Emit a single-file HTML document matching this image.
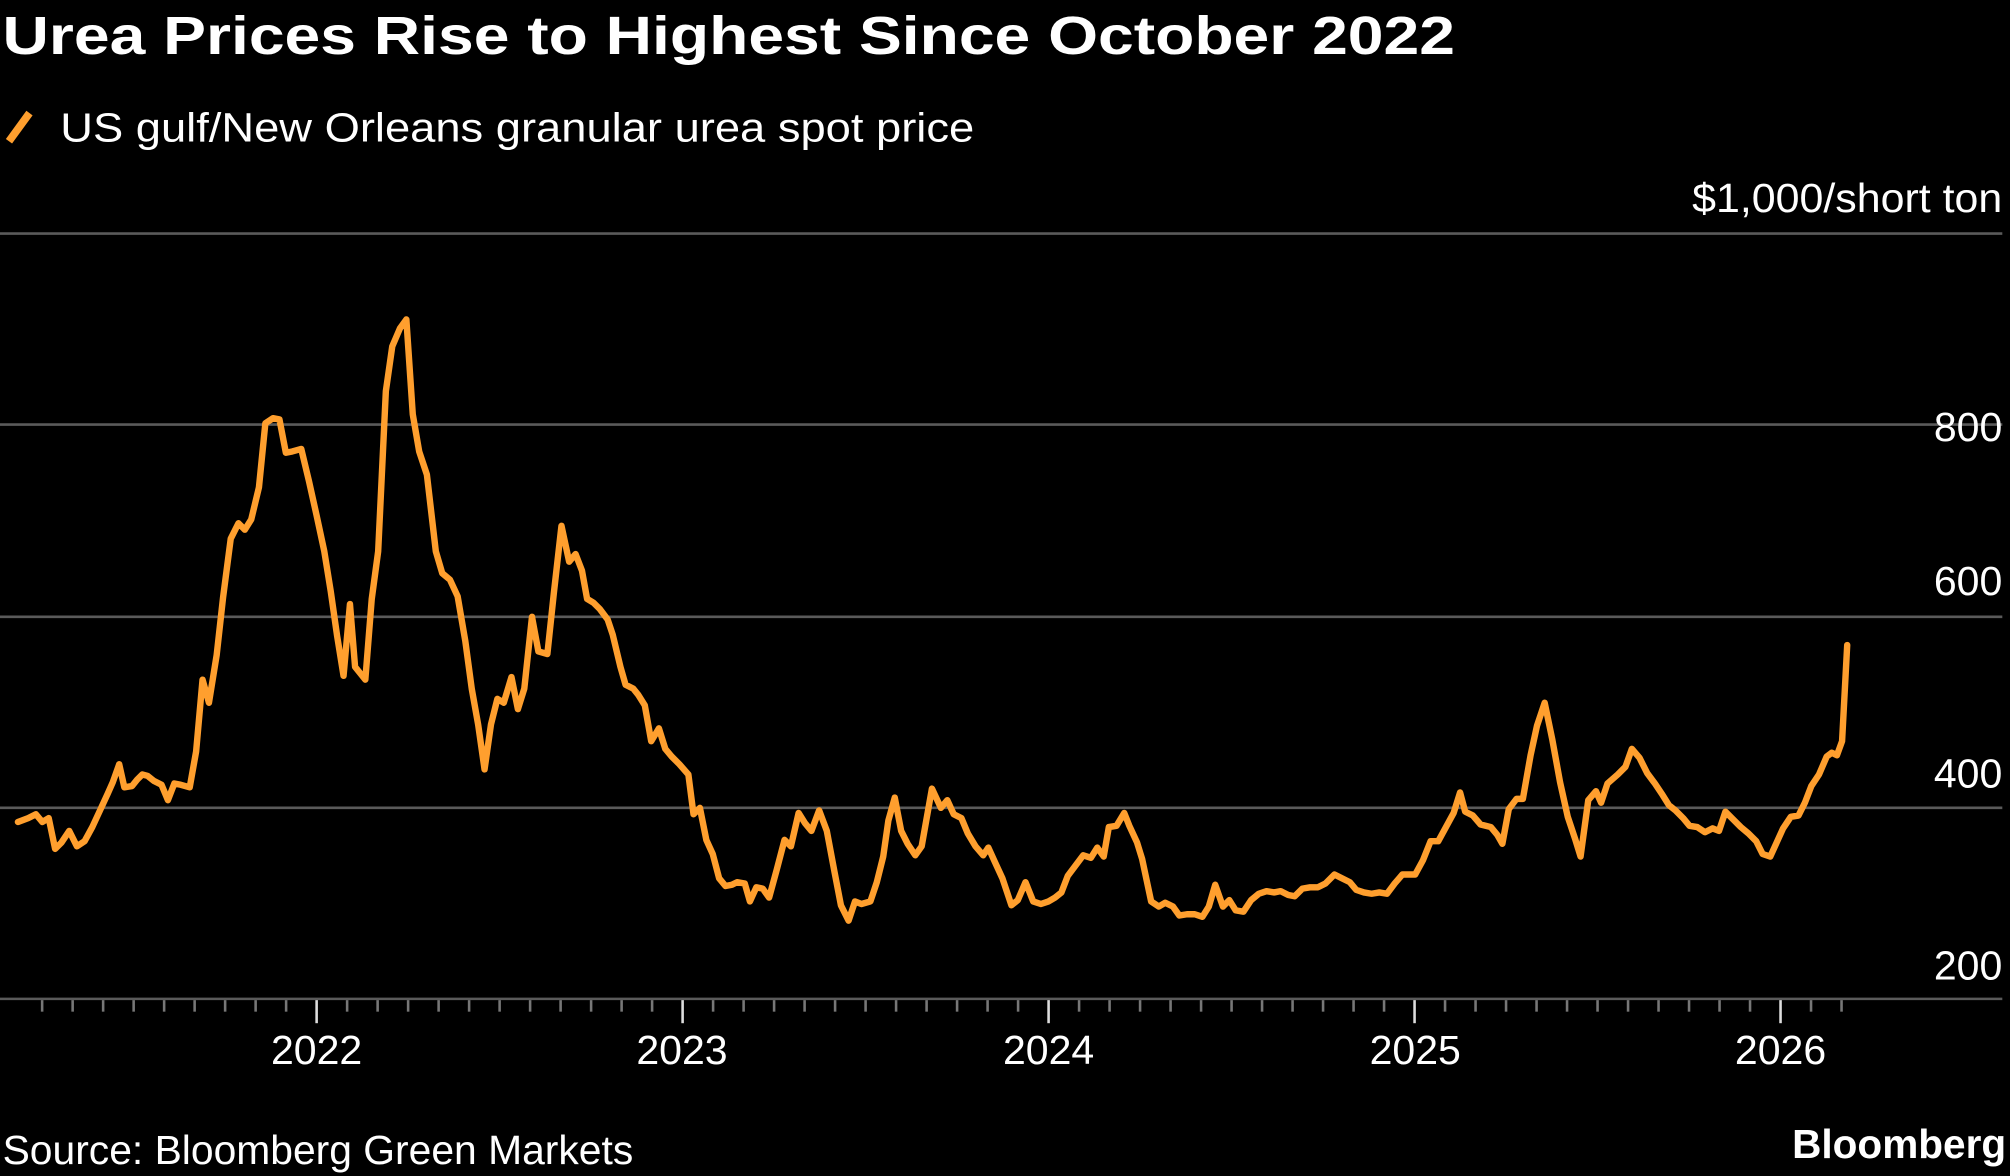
<!DOCTYPE html>
<html><head><meta charset="utf-8"><style>
html,body{margin:0;padding:0;background:#000;}
svg{display:block;}
text{font-family:"Liberation Sans Narrow","Liberation Sans",sans-serif;fill:#fff;}
</style></head><body>
<svg width="2010" height="1176" viewBox="0 0 1568 917" xmlns="http://www.w3.org/2000/svg">
<rect width="1568" height="917" fill="#000"/>
<text x="2" y="42" font-size="42" font-weight="bold" font-family="Liberation Sans" textLength="1133" lengthAdjust="spacingAndGlyphs">Urea Prices Rise to Highest Since October 2022</text>
<line x1="7" y1="110" x2="23" y2="88" stroke="#ff9f2e" stroke-width="6"/>
<text x="47" y="110" font-size="32" textLength="713" lengthAdjust="spacingAndGlyphs">US gulf/New Orleans granular urea spot price</text>
<text x="1562" y="165" font-size="32" text-anchor="end" textLength="242" lengthAdjust="spacingAndGlyphs">$1,000/short ton</text>
<g stroke="#5a5a5a" stroke-width="2">
<line x1="0" y1="182" x2="1562" y2="182"/>
<line x1="0" y1="331" x2="1562" y2="331"/>
<line x1="0" y1="481" x2="1562" y2="481"/>
<line x1="0" y1="630" x2="1562" y2="630"/>
<line x1="0" y1="779" x2="1562" y2="779"/>
</g>
<g font-size="32" text-anchor="end">
<text x="1562" y="344">800</text>
<text x="1562" y="464">600</text>
<text x="1562" y="614">400</text>
<text x="1562" y="764">200</text>
</g>
<g id="ticks" stroke="#777" stroke-width="2"></g>
<g font-size="32" text-anchor="middle">
<text x="247" y="830">2022</text>
<text x="532" y="830">2023</text>
<text x="818" y="830">2024</text>
<text x="1104" y="830">2025</text>
<text x="1389" y="830">2026</text>
</g>
<text x="2" y="908" font-size="32" textLength="492" lengthAdjust="spacingAndGlyphs">Source: Bloomberg Green Markets</text>
<text x="1565" y="903" font-size="32" font-weight="bold" text-anchor="end" font-family="Liberation Sans" textLength="167" lengthAdjust="spacingAndGlyphs">Bloomberg</text>
<polyline fill="none" stroke="#ff9f2e" stroke-width="5" stroke-linejoin="round" stroke-linecap="round" points="14,641 22,638 28,635 33,641 38,638 43,662 48,657 54,648 60,660 66,656 72,645 78,632 84,619 88,610 93,596 97,614 103,613 107,608 111,604 115,605 120,609 126,612 131,624 136,611 141,612 148,614 153,586 158,530 163,548 169,511 174,466 180,420 186,408 191,413 196,405 202,380 207,330 213,326 218,327 223,353 228,352 235,350 241,375 247,402 253,430 258,461 263,496 268,527 273,471 277,520 285,530 290,467 295,430 301,305 306,270 312,256 317,249 322,323 327,352 333,370 340,430 345,447 351,452 357,465 363,500 368,537 373,565 378,600 383,565 388,545 393,548 399,528 404,553 409,537 415,481 420,508 427,510 432,463 438,410 444,438 449,432 454,445 458,467 463,470 468,475 474,483 478,495 484,520 488,534 494,537 498,542 503,550 508,578 514,568 519,584 524,590 530,596 537,604 541,635 546,630 551,655 556,666 561,685 566,691 571,690 575,688 581,689 585,703 590,692 595,693 600,700 606,678 612,655 617,660 623,634 628,642 633,648 639,632 645,648 651,680 656,706 662,718 667,703 672,705 679,703 684,688 689,668 693,640 698,622 703,648 708,658 714,667 719,660 727,615 734,630 739,624 744,635 750,638 755,650 761,660 767,667 771,661 776,672 782,685 789,706 794,702 800,688 806,703 812,705 818,703 823,700 828,696 833,683 839,675 845,667 851,669 856,661 861,668 865,645 871,644 877,634 881,644 887,657 891,670 898,703 904,707 909,704 915,707 920,714 926,713 932,713 938,715 943,707 948,690 954,707 959,702 964,710 970,711 976,702 982,697 988,695 994,696 999,695 1005,698 1010,699 1016,693 1022,692 1028,692 1034,689 1041,682 1047,685 1053,688 1058,694 1064,696 1070,697 1076,696 1082,697 1088,689 1094,682 1104,682 1110,671 1116,656 1122,656 1128,645 1134,634 1139,618 1143,633 1149,636 1155,643 1163,645 1168,651 1172,658 1177,631 1183,623 1188,623 1194,589 1199,566 1205,548 1211,577 1217,610 1223,637 1229,655 1233,668 1239,624 1245,617 1249,626 1254,611 1262,604 1268,598 1273,584 1279,591 1285,603 1291,611 1297,620 1302,628 1307,632 1313,638 1318,644 1324,645 1330,649 1336,646 1341,648 1346,633 1352,639 1358,645 1364,650 1370,656 1375,666 1381,668 1386,657 1391,646 1397,637 1403,636 1408,626 1413,613 1419,604 1425,590 1429,587 1433,589 1437,578 1441,503"/>
</svg>
<script>
(function(){
var g=document.getElementById('ticks'),ns='http://www.w3.org/2000/svg';
var step=(1389-247)/48;
for(var i=-9;i<=51;i++){
  var x=247+i*step; if(x<25||x>1450) continue;
  var yr=(i%12===0);
  var l=document.createElementNS(ns,'line');
  l.setAttribute('x1',x);l.setAttribute('x2',x);
  l.setAttribute('y1',780);l.setAttribute('y2',yr?798:789);
  if(yr) l.setAttribute('stroke','#ddd');
  g.appendChild(l);
}
})();
</script>
</body></html>
